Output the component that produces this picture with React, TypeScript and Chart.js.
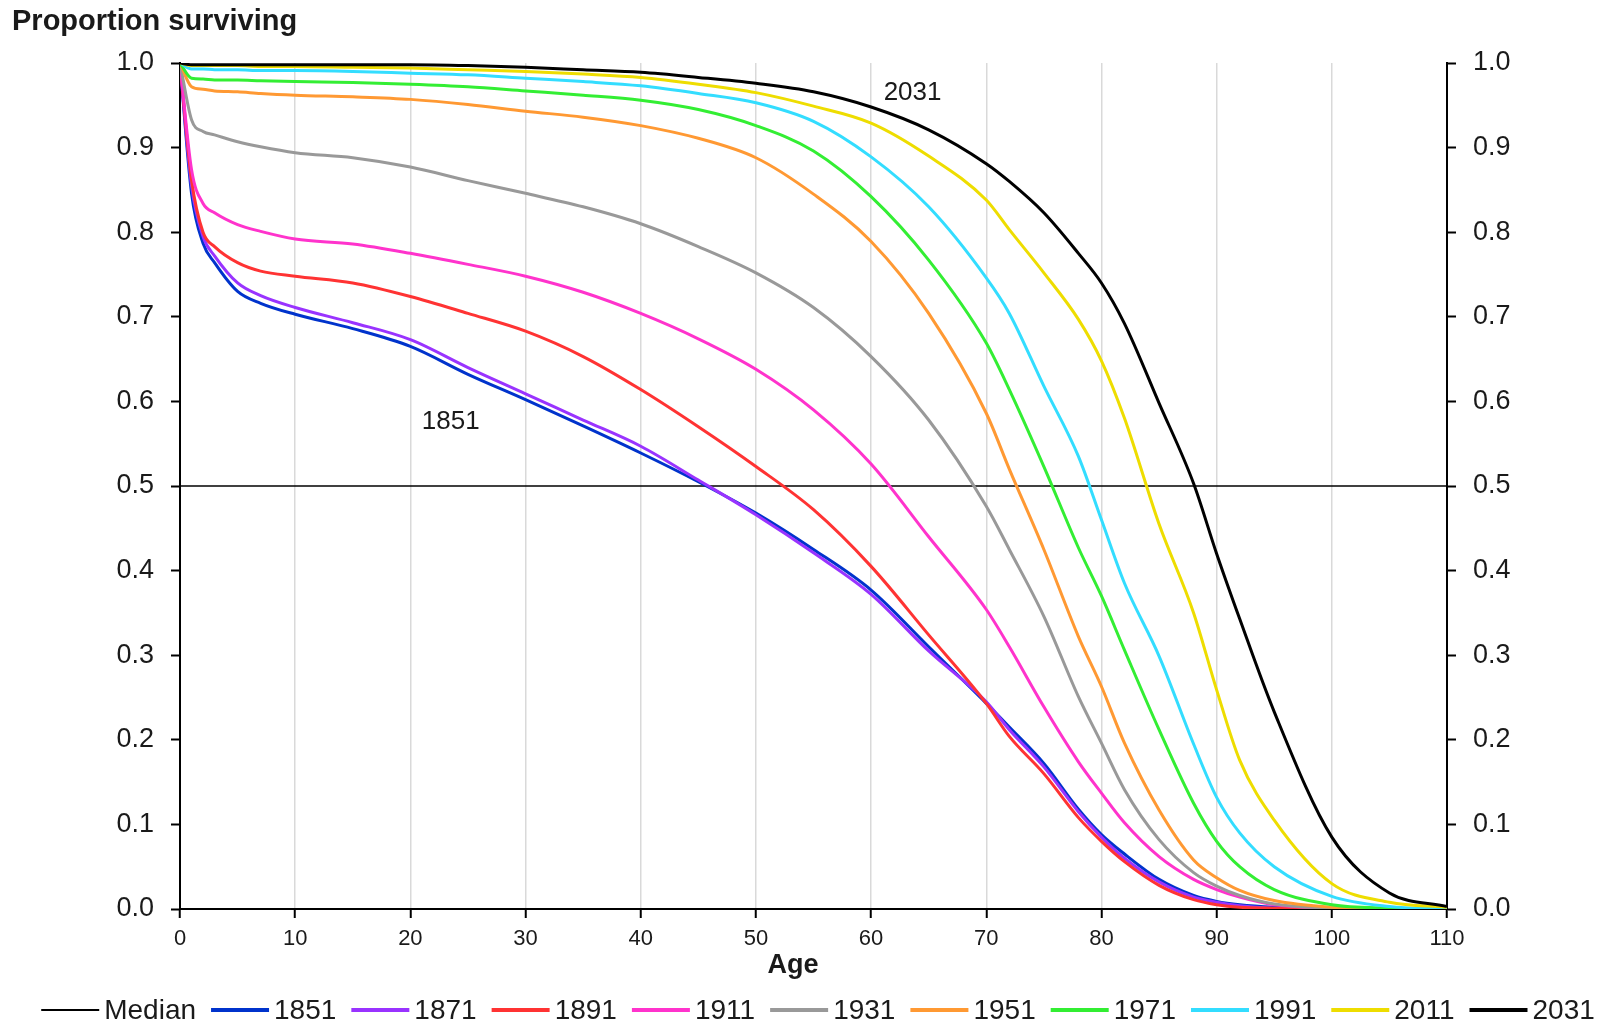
import React, { useEffect, useRef } from 'react';
import { Chart, registerables } from 'chart.js';

Chart.register(...registerables);

const FONT = "'Liberation Sans', Arial, sans-serif";

const ages = [0, 1, 2, 3, 5, 7, 10, 15, 20, 25, 30, 35, 40, 45, 50, 55, 60, 65, 70, 72, 75, 78, 80, 82, 85, 88, 90, 92, 95, 100, 105, 110];

const s1851 = [1.0, 0.846, 0.787, 0.764, 0.730, 0.716, 0.703, 0.686, 0.665, 0.632, 0.602, 0.571, 0.539, 0.505, 0.468, 0.425, 0.377, 0.310, 0.243, 0.215, 0.172, 0.118, 0.088, 0.065, 0.035, 0.016, 0.009, 0.005, 0.002, 0.0, 0.0, 0.0];
const s1871 = [1.0, 0.855, 0.795, 0.772, 0.740, 0.725, 0.711, 0.693, 0.673, 0.640, 0.609, 0.578, 0.547, 0.507, 0.466, 0.421, 0.372, 0.305, 0.245, 0.212, 0.168, 0.115, 0.085, 0.060, 0.032, 0.014, 0.008, 0.004, 0.001, 0.0, 0.0, 0.0];
const s1891 = [1.0, 0.862, 0.800, 0.783, 0.764, 0.754, 0.748, 0.740, 0.724, 0.704, 0.683, 0.653, 0.614, 0.570, 0.523, 0.472, 0.405, 0.324, 0.243, 0.204, 0.160, 0.108, 0.080, 0.056, 0.028, 0.011, 0.005, 0.002, 0.001, 0.0, 0.0, 0.0];
const s1911 = [1.0, 0.874, 0.834, 0.823, 0.809, 0.801, 0.792, 0.786, 0.775, 0.762, 0.748, 0.729, 0.704, 0.674, 0.638, 0.590, 0.526, 0.440, 0.354, 0.310, 0.239, 0.174, 0.137, 0.102, 0.062, 0.035, 0.023, 0.014, 0.005, 0.001, 0.0, 0.0];
const s1931 = [1.0, 0.933, 0.919, 0.915, 0.907, 0.901, 0.894, 0.888, 0.877, 0.861, 0.846, 0.830, 0.810, 0.783, 0.752, 0.711, 0.653, 0.578, 0.476, 0.425, 0.346, 0.251, 0.196, 0.141, 0.082, 0.043, 0.027, 0.016, 0.006, 0.001, 0.0, 0.0];
const s1951 = [1.0, 0.972, 0.969, 0.967, 0.966, 0.964, 0.962, 0.960, 0.957, 0.951, 0.943, 0.936, 0.926, 0.911, 0.888, 0.845, 0.789, 0.704, 0.586, 0.520, 0.425, 0.322, 0.263, 0.196, 0.117, 0.058, 0.037, 0.022, 0.010, 0.002, 0.0, 0.0];
const s1971 = [1.0, 0.982, 0.981, 0.980, 0.980, 0.979, 0.978, 0.977, 0.975, 0.972, 0.967, 0.962, 0.956, 0.945, 0.926, 0.896, 0.842, 0.767, 0.669, 0.614, 0.523, 0.427, 0.370, 0.306, 0.212, 0.125, 0.080, 0.050, 0.023, 0.005, 0.001, 0.0];
const s1991 = [1.0, 0.993, 0.993, 0.992, 0.992, 0.991, 0.991, 0.990, 0.988, 0.986, 0.982, 0.978, 0.973, 0.964, 0.953, 0.931, 0.889, 0.830, 0.746, 0.704, 0.618, 0.535, 0.460, 0.385, 0.299, 0.195, 0.132, 0.090, 0.050, 0.015, 0.003, 0.0];
const s2011 = [1.0, 0.997, 0.997, 0.997, 0.997, 0.996, 0.996, 0.995, 0.994, 0.992, 0.990, 0.987, 0.983, 0.975, 0.965, 0.949, 0.929, 0.890, 0.838, 0.803, 0.752, 0.697, 0.648, 0.580, 0.455, 0.350, 0.259, 0.176, 0.105, 0.030, 0.008, 0.002];
const s2031 = [1.0, 0.998, 0.998, 0.998, 0.998, 0.998, 0.998, 0.998, 0.998, 0.997, 0.995, 0.992, 0.989, 0.983, 0.976, 0.966, 0.948, 0.921, 0.881, 0.860, 0.823, 0.775, 0.740, 0.692, 0.598, 0.503, 0.420, 0.343, 0.233, 0.085, 0.019, 0.003];

const seriesLabels = ['1851', '1871', '1891', '1911', '1931', '1951', '1971', '1991', '2011', '2031'];
const seriesValues = [s1851, s1871, s1891, s1911, s1931, s1951, s1971, s1991, s2011, s2031];
const seriesColors = ['#0033cc', '#9933ff', '#ff3333', '#ff33cc', '#999999', '#ff9933', '#33ee33', '#33ddff', '#eedd00', '#000000'];

const medianLabel = 'Median';
const medianValue = 0.5;
const xRange = [0, 110];

const yTicks = [0, 0.1, 0.2, 0.3, 0.4, 0.5, 0.6, 0.7, 0.8, 0.9, 1.0];
const xTicks = [0, 10, 20, 30, 40, 50, 60, 70, 80, 90, 100, 110];

const annotations = [
  { text: '2031', age: 63.6, value: 0.965 },
  { text: '1851', age: 23.5, value: 0.576 },
];

const titleText = 'Proportion surviving';
const xTitle = 'Age';

export default function App() {
  const ref = useRef<HTMLCanvasElement | null>(null);

  useEffect(() => {
    if (!ref.current) return;
    const n = seriesLabels.length;
    const datasets: any[] = [
      {
        label: medianLabel,
        data: xRange.map((x) => ({ x, y: medianValue })),
        borderColor: '#000000',
        backgroundColor: '#000000',
        borderWidth: 1.5,
        pointRadius: 0,
        order: n + 1,
      },
      ...seriesLabels.map((lab, i) => ({
        label: lab,
        data: ages.map((a, k) => ({ x: a, y: seriesValues[i][k] })),
        borderColor: seriesColors[i],
        backgroundColor: seriesColors[i],
        borderWidth: 3,
        pointRadius: 0,
        cubicInterpolationMode: 'monotone',
        order: n - i,
      })),
    ];

    const extras = {
      id: 'extras',
      afterDatasetsDraw(chart: any) {
        const { ctx, scales } = chart;
        ctx.save();
        ctx.fillStyle = '#1a1a1a';
        ctx.font = `26px ${FONT}`;
        ctx.textAlign = 'center';
        ctx.textBaseline = 'middle';
        annotations.forEach((a) => {
          ctx.fillText(a.text, scales.x.getPixelForValue(a.age), scales.y.getPixelForValue(a.value));
        });
        ctx.restore();
      },
      afterDraw(chart: any) {
        const { ctx } = chart;
        ctx.save();
        // title
        ctx.fillStyle = '#1a1a1a';
        ctx.font = `bold 29px ${FONT}`;
        ctx.textAlign = 'left';
        ctx.textBaseline = 'middle';
        ctx.fillText(titleText, 12, 22);
        // x axis title
        ctx.font = `bold 27px ${FONT}`;
        ctx.textAlign = 'center';
        ctx.fillText(xTitle, 793, 966);
        // legend
        const items = datasets.slice();
        ctx.font = `28px ${FONT}`;
        const lineLen = 58;
        const gap = 5;
        const itemGap = 15;
        const widths = items.map((d) => lineLen + gap + ctx.measureText(d.label).width);
        const total = widths.reduce((s, w) => s + w, 0) + itemGap * (items.length - 1);
        let x = 818 - total / 2;
        const y = 1010;
        items.forEach((d, i) => {
          ctx.beginPath();
          ctx.strokeStyle = d.borderColor;
          ctx.lineWidth = d.label === medianLabel ? 2 : 4;
          ctx.moveTo(x, y);
          ctx.lineTo(x + lineLen, y);
          ctx.stroke();
          ctx.fillStyle = '#1a1a1a';
          ctx.textAlign = 'left';
          ctx.textBaseline = 'middle';
          ctx.fillText(d.label, x + lineLen + gap, y + 1);
          x += widths[i] + itemGap;
        });
        ctx.restore();
      },
    };

    const yAxisCommon = (position: string, width: number) => ({
      type: 'linear',
      position,
      min: 0,
      max: 1,
      afterBuildTicks: (scale: any) => {
        scale.ticks = yTicks.map((v) => ({ value: v }));
      },
      afterFit: (scale: any) => {
        scale.width = width;
      },
      ticks: {
        color: '#1a1a1a',
        font: { family: FONT, size: 27 },
        padding: 17,
        callback: (v: any) => Number(v).toFixed(1),
      },
      grid: {
        display: true,
        drawOnChartArea: false,
        drawTicks: true,
        tickLength: 9,
        tickColor: '#000000',
        tickWidth: 2,
      },
      border: { display: true, color: '#000000', width: 2 },
    });

    const chart = new Chart(ref.current, {
      type: 'line',
      data: { datasets },
      plugins: [extras],
      options: {
        animation: false,
        responsive: false,
        devicePixelRatio: 1,
        layout: { padding: { top: 63, left: 0, right: 0, bottom: 42 } },
        plugins: {
          legend: { display: false },
          title: { display: false },
          tooltip: { enabled: false },
        },
        scales: {
          x: {
            type: 'linear',
            position: 'bottom',
            min: xRange[0],
            max: xRange[1],
            afterBuildTicks: (scale: any) => {
              scale.ticks = xTicks.map((v) => ({ value: v }));
            },
            afterFit: (scale: any) => {
              scale.height = 73;
            },
            ticks: {
              color: '#1a1a1a',
              font: { family: FONT, size: 22 },
              padding: 8,
              maxRotation: 0,
            },
            grid: {
              display: true,
              drawOnChartArea: true,
              color: (c: any) => (c.tick && (c.tick.value === 0 || c.tick.value === 110) ? 'rgba(0,0,0,0)' : '#d9d9d9'),
              lineWidth: 1.5,
              drawTicks: true,
              tickLength: 9,
              tickColor: '#000000',
              tickWidth: 2,
            },
            border: { display: true, color: '#000000', width: 2 },
            title: { display: false },
          },
          y: yAxisCommon('left', 180) as any,
          y2: yAxisCommon('right', 167) as any,
        },
      } as any,
    });
    return () => chart.destroy();
  }, []);

  return (
    <div style={{ position: 'fixed', left: 0, top: 0, width: 1614, height: 1024, background: '#ffffff' }}>
      <canvas ref={ref} width={1614} height={1024} style={{ width: 1614, height: 1024, display: 'block' }} />
    </div>
  );
}
